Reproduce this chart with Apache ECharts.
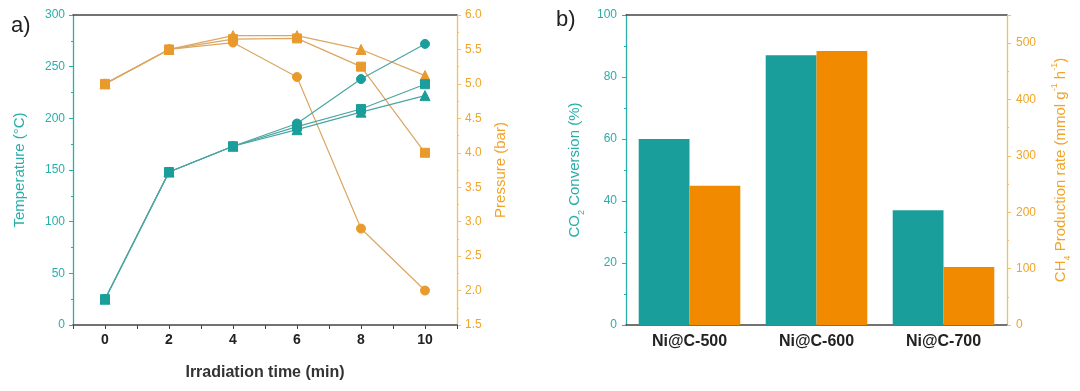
<!DOCTYPE html>
<html><head><meta charset="utf-8">
<script src="https://cdn.jsdelivr.net/npm/echarts@6/dist/echarts.min.js"></script>
<style>html,body{margin:0;padding:0;background:#fff}#c{width:1080px;height:391px}</style>
</head><body><div id="c"></div>
<script>
// ---- data ----
const timeMin = [0, 2, 4, 6, 8, 10];
const tempCircle   = [25, 148, 173, 195, 238, 272];
const tempSquare   = [25, 148, 173, 192, 209, 233];
const tempTriangle = [25, 148, 173, 189, 206, 222];
const presCircle   = [5.0, 5.5, 5.6, 5.1, 2.9, 2.0];
const presSquare   = [5.0, 5.5, 5.65, 5.66, 5.25, 4.0];
const presTriangle = [5.0, 5.5, 5.7, 5.7, 5.5, 5.12];
const catalysts = ['Ni@C-500', 'Ni@C-600', 'Ni@C-700'];
const co2Conversion = [60, 87, 37];
const ch4Rate = [247, 486, 103];

const TEAL = '#1a9e9b', TEAL_TXT = '#2aaeaa', TEAL_LINE = '#4aa6a2';
const ORANGE = '#f28a00', OR_TXT = '#f0a428', OR_LINE = '#dba662', OR_MARK = '#e99a2c';
const FONT = '"Liberation Sans", Arial, sans-serif';

function pts(ys) { return timeMin.map((t, i) => [t, ys[i]]); }

const chart = echarts.init(document.getElementById('c'), null, {renderer: 'canvas'});

function lineSeries(ys, sym, yIdx, lineColor, markColor) {
  return {
    type: 'line', xAxisIndex: 0, yAxisIndex: yIdx, data: pts(ys),
    symbol: sym, symbolSize: sym === 'triangle' ? 10 : 9, showSymbol: true,
    lineStyle: {color: lineColor, width: 1.2},
    itemStyle: {color: markColor, borderColor: markColor},
    animation: false
  };
}

const yTick = {show: true, length: 4, lineStyle: {width: 1}};
const yMinor = {show: true, splitNumber: 2, length: 2};

chart.setOption({
  animation: false,
  textStyle: {fontFamily: FONT},
  title: [
    {text: 'a)', left: 6, top: 10, textStyle: {fontSize: 22, fontWeight: 'normal', color: '#222', fontFamily: FONT}},
    {text: 'b)', left: 551, top: 4, textStyle: {fontSize: 22, fontWeight: 'normal', color: '#222', fontFamily: FONT}}
  ],
  grid: [
    {left: 73, right: 623, top: 15, bottom: 66},
    {left: 626, right: 73, top: 15, bottom: 66}
  ],
  xAxis: [
    {type: 'value', gridIndex: 0, min: -1, max: 11, interval: 1, position: 'bottom',
     axisLine: {onZero: false, lineStyle: {color: '#444', width: 1.5}},
     axisTick: {show: true, length: 4, lineStyle: {color: '#444'}},
     axisLabel: {color: '#222', fontSize: 14, fontWeight: 'bold', margin: 8,
       formatter: v => (v >= 0 && v <= 10 && v % 2 === 0) ? String(v) : ''},
     splitLine: {show: false},
     name: 'Irradiation time (min)', nameLocation: 'middle', nameGap: 40,
     nameTextStyle: {color: '#333', fontSize: 16, fontWeight: 'bold'}},
    {type: 'value', gridIndex: 0, min: -1, max: 11, position: 'top',
     axisLine: {show: true, onZero: false, lineStyle: {color: '#444', width: 1.5}},
     axisTick: {show: false}, axisLabel: {show: false}, splitLine: {show: false}},
    {type: 'category', gridIndex: 1, data: catalysts, position: 'bottom',
     axisLine: {onZero: false, lineStyle: {color: '#444', width: 1.5}},
     axisTick: {show: false},
     axisLabel: {color: '#222', fontSize: 16, fontWeight: 'bold', margin: 9}},
    {type: 'category', gridIndex: 1, data: catalysts, position: 'top',
     axisLine: {show: true, onZero: false, lineStyle: {color: '#444', width: 1.5}},
     axisTick: {show: false}, axisLabel: {show: false}}
  ],
  yAxis: [
    {type: 'value', gridIndex: 0, min: 0, max: 300, interval: 50, position: 'left',
     axisLine: {show: true, onZero: false, lineStyle: {color: TEAL_TXT, width: 1.3}},
     axisTick: yTick, minorTick: yMinor,
     axisLabel: {color: TEAL_TXT, fontSize: 12, margin: 8},
     splitLine: {show: false},
     name: 'Temperature (°C)', nameLocation: 'middle', nameGap: 46, nameRotate: 90,
     nameTextStyle: {color: TEAL_TXT, fontSize: 15}},
    {type: 'value', gridIndex: 0, min: 1.5, max: 6.0, interval: 0.5, position: 'right',
     axisLine: {show: true, onZero: false, lineStyle: {color: '#f2c060', width: 1.3}},
     axisTick: yTick, minorTick: yMinor,
     axisLabel: {color: OR_TXT, fontSize: 12, margin: 8, formatter: v => v.toFixed(1)},
     splitLine: {show: false},
     name: 'Pressure (bar)', nameLocation: 'middle', nameGap: 36, nameRotate: 90,
     nameTextStyle: {color: OR_TXT, fontSize: 15}},
    {type: 'value', gridIndex: 1, min: 0, max: 100, interval: 20, position: 'left',
     axisLine: {show: true, onZero: false, lineStyle: {color: TEAL_TXT, width: 1.3}},
     axisTick: yTick, minorTick: yMinor,
     axisLabel: {color: TEAL_TXT, fontSize: 12, margin: 9},
     splitLine: {show: false},
     name: '{a|CO}{s|2}{a| Conversion (%)}', nameLocation: 'middle', nameGap: 44, nameRotate: 90,
     nameTextStyle: {color: TEAL_TXT, fontSize: 15,
       rich: {a: {color: TEAL_TXT, fontSize: 15, fontFamily: FONT},
              s: {color: TEAL_TXT, fontSize: 9, fontFamily: FONT, verticalAlign: 'bottom', padding: [0, 0, -4, 0]}}}},
    {type: 'value', gridIndex: 1, min: 0, max: 550, interval: 100, position: 'right',
     axisLine: {show: true, onZero: false, lineStyle: {color: '#f2c060', width: 1.3}},
     axisTick: yTick, minorTick: yMinor,
     axisLabel: {color: OR_TXT, fontSize: 12, margin: 9, formatter: v => v % 100 === 0 ? String(v) : ''},
     splitLine: {show: false},
     name: '{a|CH}{s|4}{a| Production rate (mmol g}{p|-1}{a| h}{p|-1}{a|)}', nameLocation: 'middle', nameGap: 46, nameRotate: 90,
     nameTextStyle: {color: OR_TXT, fontSize: 15,
       rich: {a: {color: OR_TXT, fontSize: 15, fontFamily: FONT},
              s: {color: OR_TXT, fontSize: 9, fontFamily: FONT, verticalAlign: 'bottom', padding: [0, 0, -4, 0]},
              p: {color: OR_TXT, fontSize: 9, fontFamily: FONT, verticalAlign: 'top', padding: [-3, 0, 0, 0]}}}}
  ],
  series: [
    lineSeries(presCircle, 'circle', 1, OR_LINE, OR_MARK),
    lineSeries(presSquare, 'rect', 1, OR_LINE, OR_MARK),
    lineSeries(presTriangle, 'triangle', 1, OR_LINE, OR_MARK),
    lineSeries(tempCircle, 'circle', 0, TEAL_LINE, TEAL),
    lineSeries(tempSquare, 'rect', 0, TEAL_LINE, TEAL),
    lineSeries(tempTriangle, 'triangle', 0, TEAL_LINE, TEAL),
    {type: 'bar', xAxisIndex: 2, yAxisIndex: 2, data: co2Conversion,
     itemStyle: {color: TEAL}, barGap: '0%', barCategoryGap: '20%'},
    {type: 'bar', xAxisIndex: 2, yAxisIndex: 3, data: ch4Rate,
     itemStyle: {color: ORANGE}, barGap: '0%', barCategoryGap: '20%'}
  ]
});
</script></body></html>
